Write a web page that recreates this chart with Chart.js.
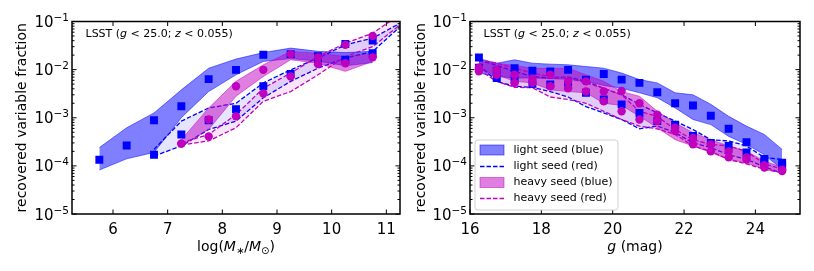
<!DOCTYPE html>
<html>
<head>
<meta charset="utf-8">
<script src="https://cdn.jsdelivr.net/npm/chart.js@4/dist/chart.umd.min.js"></script>
<style>
body { margin: 0; background: #fff; width: 814px; height: 271px; overflow: hidden; position: relative; }
canvas { position: absolute; top: 0; }
</style>
</head>
<body>
<canvas id="graficoMassa" width="407" height="271" style="left:0"></canvas>
<canvas id="graficoMag" width="407" height="271" style="left:407px"></canvas>
<script>
// ---- painel esquerdo: log(M*/Msun) ----
const binsMassa = [5.75, 6.25, 6.75, 7.25, 7.75, 8.25, 8.75, 9.25, 9.75, 10.25, 10.75, 11.25];

const leveAzulSup = [2.4e-4, 6.2e-4, 1.26e-3, 3.8e-3, 0.0107, 0.0166, 0.0226, 0.028, 0.024, 0.0226, 0.024, null];
const leveAzulInf = [8.2e-5, 1.4e-4, 1.9e-4, 1.0e-3, 3.5e-3, 7.8e-3, 0.0148, 0.017, 0.015, 0.012, 0.014, null];
const leveAzulPts = [1.34e-4, 2.65e-4, 8.9e-4, 1.73e-3, 6.35e-3, 9.9e-3, 0.0203, 0.021, 0.019, 0.016, 0.022, null];

const leveVermSup = [null, null, 2.2e-4, 8.5e-4, 1.6e-3, 2.0e-3, 5.3e-3, 9.9e-3, 0.0173, 0.0327, 0.045, 0.092];
const leveVermInf = [null, null, 1.6e-4, 2.6e-4, 5.7e-4, 8.5e-4, 2.6e-3, 5.7e-3, 0.0107, 0.0173, 0.0238, 0.078];
const leveVermPts = [null, null, 1.7e-4, 4.5e-4, 8.9e-4, 1.5e-3, 4.5e-3, 8.1e-3, 0.0148, 0.034, 0.040, null];

const pesadaAzulSup = [null, null, null, 3.5e-4, 1.6e-3, 5.7e-3, 0.0126, 0.0238, 0.022, 0.0187, 0.022, null];
const pesadaAzulInf = [null, null, null, 2.6e-4, 5.7e-4, 2.8e-3, 7.2e-3, 0.016, 0.0136, 0.0092, 0.0148, null];
const pesadaAzulPts = [null, null, null, 2.9e-4, 9.2e-4, 4.5e-3, 9.9e-3, 0.021, 0.018, 0.0136, 0.018, null];

const pesadaVermSup = [null, null, null, 3.0e-4, 4.5e-4, 1.16e-3, 4.1e-3, 8.5e-3, 0.0187, 0.0353, 0.057, 0.14];
const pesadaVermInf = [null, null, null, 2.7e-4, 3.3e-4, 6.2e-4, 2.2e-3, 3.5e-3, 7.8e-3, 0.0187, 0.030, 0.085];
const pesadaVermPts = [null, null, null, 2.9e-4, 4.1e-4, 1.07e-3, 3.2e-3, 7.2e-3, 0.013, 0.0327, 0.050, null];

// ---- painel direito: g (mag) ----
const binsMag = [16.25, 16.75, 17.25, 17.75, 18.25, 18.75, 19.25, 19.75, 20.25, 20.75, 21.25, 21.75, 22.25, 22.75, 23.25, 23.75, 24.25, 24.75];

const gLeveAzulSup = [0.017, 0.0136, 0.016, 0.0136, 0.013, 0.0126, 0.0116, 0.0107, 0.0085, 0.0062, 0.0053, 0.0033, 0.0030, 0.0019, 0.00107, 0.00067, 0.00045, 0.00022];
const gLeveAzulInf = [0.0085, 0.0072, 0.0067, 0.0067, 0.0065, 0.0063, 0.0057, 0.0047, 0.0041, 0.0033, 0.0026, 0.0016, 0.00092, 0.00072, 0.00041, 0.00028, 0.00017, 0.000085];
const gLeveAzulPts = [0.0179, 0.0095, 0.0107, 0.0095, 0.0092, 0.0099, 0.0062, 0.0081, 0.0062, 0.0053, 0.0034, 0.0020, 0.0018, 0.0011, 0.00059, 0.00031, 0.00014, 0.000116];

const gLeveVermSup = [0.016, 0.0122, 0.0092, 0.0072, 0.0067, 0.0070, 0.0057, 0.0041, 0.0030, 0.0019, 0.00126, 0.00085, 0.00057, 0.00035, 0.00033, 0.00026, 0.00015, 0.000136];
const gLeveVermInf = [0.0126, 0.0057, 0.0045, 0.0043, 0.0035, 0.0027, 0.0017, 0.00126, 0.00092, 0.00059, 0.00067, 0.00049, 0.00030, 0.00024, 0.00017, 0.000136, 0.000096, 0.00007];
const gLeveVermPts = [0.011, 0.0067, 0.0062, 0.0051, 0.0049, 0.0047, 0.0033, 0.0024, 0.0019, 0.00126, 0.00085, 0.00072, 0.00042, 0.00030, 0.00026, 0.00019, 0.00012, 0.0001];

const gPesadaAzulSup = [0.0148, 0.0136, 0.0122, 0.0107, 0.0105, 0.0107, 0.0078, 0.0057, 0.0035, 0.0028, 0.00136, 0.00078, 0.00049, 0.00035, 0.00026, 0.0002, 0.000127, 0.000092];
const gPesadaAzulInf = [0.0099, 0.0078, 0.0057, 0.0053, 0.0038, 0.0035, 0.0033, 0.0020, 0.0018, 0.00107, 0.00062, 0.00035, 0.00026, 0.00019, 0.000136, 0.000116, 0.000085, 0.000072];
const gPesadaAzulPts = [0.011, 0.0099, 0.0078, 0.0065, 0.0078, 0.0057, 0.0057, 0.0035, 0.0036, 0.0020, 0.00116, 0.00062, 0.00038, 0.00028, 0.0002, 0.00015, 0.000103, 0.000083];

const gPesadaVermSup = [0.016, 0.0136, 0.0107, 0.0085, 0.0072, 0.0067, 0.0053, 0.0041, 0.0030, 0.00136, 0.00107, 0.00057, 0.00035, 0.00028, 0.00026, 0.0002, 0.00011, 0.000085];
const gPesadaVermInf = [0.0099, 0.0057, 0.0043, 0.0042, 0.0027, 0.0024, 0.0020, 0.00136, 0.00092, 0.00067, 0.00059, 0.00045, 0.00026, 0.0002, 0.000136, 0.00011, 0.000085, 0.000072];
const gPesadaVermPts = [0.0092, 0.0078, 0.0053, 0.0053, 0.0045, 0.0041, 0.0035, 0.0022, 0.00136, 0.00092, 0.00085, 0.00053, 0.00028, 0.0002, 0.00015, 0.000136, 0.000092, 0.000078];

// eixos
const ticksMassa = [6, 7, 8, 9, 10, 11];
const ticksMag = [16, 18, 20, 22, 24];
const decadas = [1e-5, 1e-4, 1e-3, 1e-2, 1e-1];
const expoentes = ['\u22125', '\u22124', '\u22123', '\u22122', '\u22121'];
const menores = [2, 3, 4, 5, 6, 7, 8, 9];
const legendas = ['light seed (blue)', 'light seed (red)', 'heavy seed (blue)', 'heavy seed (red)'];

const AZUL = '#0000ff';
const MAGENTA = '#bf00bf';
const AZUL_FAIXA = 'rgba(0,0,255,0.5)';
const MAGENTA_FAIXA = 'rgba(191,0,191,0.5)';
const AZUL_CLARO = 'rgba(0,0,255,0.1)';
const MAGENTA_CLARO = 'rgba(191,0,191,0.1)';
const FONTE = '"DejaVu Sans", sans-serif';
const TRACO = [4.5, 2];

function pontos(xs, ys) {
    return xs.map((x, i) => ({ x: x, y: ys[i] })).filter(p => p.y !== null);
}

function faixa(xs, sup, inf, cor, preench, tracejado, ordem) {
    const base = {
        pointRadius: 0,
        tension: 0,
        borderColor: cor,
        borderWidth: tracejado ? 1.3 : 1,
        borderDash: tracejado ? TRACO : [],
        order: ordem,
    };
    return [
        Object.assign({}, base, { data: pontos(xs, sup), fill: '+1', backgroundColor: preench }),
        Object.assign({}, base, { data: pontos(xs, inf), fill: false }),
    ];
}

function marcadores(xs, ys, cor, estilo, raio, ordem) {
    return {
        data: pontos(xs, ys),
        showLine: false,
        pointStyle: estilo,
        pointRadius: raio,
        pointBackgroundColor: cor,
        pointBorderWidth: 0,
        order: ordem,
    };
}

function escrever(ctx, partes, x, y, alinhamento) {
    let total = 0;
    partes.forEach(p => {
        ctx.font = (p.it ? 'italic ' : '') + p.tam + 'px ' + FONTE;
        p.w = ctx.measureText(p.t).width;
        total += p.w;
    });
    let cx = alinhamento === 'center' ? x - total / 2 : (alinhamento === 'right' ? x - total : x);
    ctx.textAlign = 'left';
    ctx.textBaseline = 'alphabetic';
    partes.forEach(p => {
        ctx.font = (p.it ? 'italic ' : '') + p.tam + 'px ' + FONTE;
        ctx.fillText(p.t, cx, y + (p.dy || 0));
        cx += p.w;
    });
}

function linha(ctx, x1, y1, x2, y2) {
    ctx.beginPath();
    ctx.moveTo(x1, y1);
    ctx.lineTo(x2, y2);
    ctx.stroke();
}

const moldura = {
    id: 'moldura',
    afterDraw(chart, args, opts) {
        const ctx = chart.ctx;
        const a = chart.chartArea;
        const x = chart.scales.x;
        const y = chart.scales.y;
        ctx.save();
        ctx.fillStyle = '#000';
        ctx.strokeStyle = '#000';
        ctx.lineWidth = 1;

        x.ticks.forEach(t => {
            const px = x.getPixelForValue(t.value);
            linha(ctx, px, a.bottom, px, a.bottom - 4.5);
            linha(ctx, px, a.top, px, a.top + 4.5);
        });
        decadas.forEach((d, i) => {
            const py = y.getPixelForValue(d);
            linha(ctx, a.left, py, a.left + 4.5, py);
            linha(ctx, a.right, py, a.right - 4.5, py);
            if (i < decadas.length - 1) {
                menores.forEach(m => {
                    const pm = y.getPixelForValue(m * d);
                    linha(ctx, a.left, pm, a.left + 2.5, pm);
                    linha(ctx, a.right, pm, a.right - 2.5, pm);
                });
            }
            // rotulo 10^n
            ctx.font = '10.5px ' + FONTE;
            const we = ctx.measureText(expoentes[i]).width;
            ctx.textAlign = 'right';
            ctx.textBaseline = 'alphabetic';
            ctx.fillText(expoentes[i], a.left - 3, py - 0.5);
            ctx.font = '15px ' + FONTE;
            ctx.fillText('10', a.left - 3 - we, py + 5.5);
        });

        ctx.lineWidth = 1.5;
        ctx.strokeRect(a.left, a.top, a.right - a.left, a.bottom - a.top);

        // titulo do eixo y
        ctx.save();
        ctx.translate(a.left - opts.tituloYDist, (a.top + a.bottom) / 2);
        ctx.rotate(-Math.PI / 2);
        ctx.font = '14px ' + FONTE;
        ctx.textAlign = 'center';
        ctx.textBaseline = 'middle';
        ctx.fillText('recovered variable fraction', 0, 0);
        ctx.restore();

        // titulo do eixo x
        escrever(ctx, opts.tituloX, (a.left + a.right) / 2, 251, 'center');

        // anotacao
        escrever(ctx, [
            { t: 'LSST (', tam: 11 },
            { t: 'g', it: true, tam: 11 },
            { t: ' < 25.0; ', tam: 11 },
            { t: 'z', it: true, tam: 11 },
            { t: ' < 0.055)', tam: 11 },
        ], a.left + 13.5, a.top + 15.5, 'left');

        if (opts.legenda) {
            const lx = a.left + 5, ly = a.top + 118.5, lw = 143, lh = 70;
            ctx.beginPath();
            ctx.roundRect(lx, ly, lw, lh, 3);
            ctx.fillStyle = 'rgba(255,255,255,0.8)';
            ctx.fill();
            ctx.strokeStyle = '#d0d0d0';
            ctx.lineWidth = 1;
            ctx.stroke();
            const linhas = [128.5, 145, 161, 177];
            const estilos = [
                { tipo: 'faixa', cor: AZUL_FAIXA, borda: AZUL_FAIXA },
                { tipo: 'traco', cor: AZUL },
                { tipo: 'faixa', cor: MAGENTA_FAIXA, borda: MAGENTA_FAIXA },
                { tipo: 'traco', cor: MAGENTA },
            ];
            linhas.forEach((ry, i) => {
                const cy = a.top + ry;
                const e = estilos[i];
                if (e.tipo === 'faixa') {
                    ctx.fillStyle = e.cor;
                    ctx.fillRect(a.left + 10, cy - 5, 24, 10);
                    ctx.strokeStyle = e.borda;
                    ctx.lineWidth = 1;
                    ctx.strokeRect(a.left + 10, cy - 5, 24, 10);
                } else {
                    ctx.strokeStyle = e.cor;
                    ctx.lineWidth = 1.3;
                    ctx.setLineDash(TRACO);
                    linha(ctx, a.left + 10, cy, a.left + 34, cy);
                    ctx.setLineDash([]);
                }
                ctx.fillStyle = '#000';
                ctx.font = '11px ' + FONTE;
                ctx.textAlign = 'left';
                ctx.textBaseline = 'middle';
                ctx.fillText(legendas[i], a.left + 43.5, cy);
            });
        }
        ctx.restore();
    }
};

function criarGrafico(id, xs, series, xMin, xMax, ticksX, largY, padDir, extras) {
    const datasets = [
        marcadores(xs, series.pesadaVermPts, MAGENTA, 'circle', 4.2, 0),
        marcadores(xs, series.pesadaAzulPts, MAGENTA, 'circle', 4.2, 1),
        marcadores(xs, series.leveVermPts, AZUL, 'rect', 5.6, 2),
        marcadores(xs, series.leveAzulPts, AZUL, 'rect', 5.6, 3),
    ].concat(
        faixa(xs, series.pesadaVermSup, series.pesadaVermInf, MAGENTA, MAGENTA_CLARO, true, 4),
        faixa(xs, series.pesadaAzulSup, series.pesadaAzulInf, MAGENTA_FAIXA, MAGENTA_FAIXA, false, 5),
        faixa(xs, series.leveVermSup, series.leveVermInf, AZUL, AZUL_CLARO, true, 6),
        faixa(xs, series.leveAzulSup, series.leveAzulInf, AZUL_FAIXA, AZUL_FAIXA, false, 7)
    );
    // fill '+1' aponta para o indice seguinte no array
    return new Chart(document.getElementById(id), {
        type: 'line',
        data: { datasets: datasets },
        options: {
            responsive: false,
            animation: false,
            devicePixelRatio: 1,
            layout: { padding: { top: 21.5, right: padDir, left: 0, bottom: 0 } },
            plugins: {
                legend: { display: false },
                tooltip: { enabled: false },
                moldura: extras,
            },
            scales: {
                x: {
                    type: 'linear',
                    min: xMin,
                    max: xMax,
                    grid: { display: false, drawTicks: false },
                    border: { display: false },
                    ticks: { color: '#000', font: { family: 'DejaVu Sans', size: 15 }, padding: 7 },
                    afterBuildTicks: s => { s.ticks = ticksX.map(v => ({ value: v })); },
                    afterFit: s => { s.height = 57; },
                },
                y: {
                    type: 'logarithmic',
                    min: 1e-5,
                    max: 0.1,
                    grid: { display: false, drawTicks: false },
                    border: { display: false },
                    ticks: { display: false },
                    afterFit: s => { s.width = largY; },
                },
            },
        },
        plugins: [moldura],
    });
}

criarGrafico('graficoMassa', binsMassa, {
    leveAzulSup, leveAzulInf, leveAzulPts,
    leveVermSup, leveVermInf, leveVermPts,
    pesadaAzulSup, pesadaAzulInf, pesadaAzulPts,
    pesadaVermSup, pesadaVermInf, pesadaVermPts,
}, 5.25, 11.25, ticksMassa, 72, 7, {
    tituloYDist: 50,
    legenda: false,
    tituloX: [
        { t: 'log(', tam: 14 },
        { t: 'M', it: true, tam: 14 },
        { t: '\u2217', tam: 10, dy: 3 },
        { t: '/', tam: 14 },
        { t: 'M', it: true, tam: 14 },
        { t: '\u2299', tam: 10, dy: 3 },
        { t: ')', tam: 14 },
    ],
});

criarGrafico('graficoMag', binsMag, {
    leveAzulSup: gLeveAzulSup, leveAzulInf: gLeveAzulInf, leveAzulPts: gLeveAzulPts,
    leveVermSup: gLeveVermSup, leveVermInf: gLeveVermInf, leveVermPts: gLeveVermPts,
    pesadaAzulSup: gPesadaAzulSup, pesadaAzulInf: gPesadaAzulInf, pesadaAzulPts: gPesadaAzulPts,
    pesadaVermSup: gPesadaVermSup, pesadaVermInf: gPesadaVermInf, pesadaVermPts: gPesadaVermPts,
}, 16, 25.25, ticksMag, 63, 14, {
    tituloYDist: 48.5,
    legenda: true,
    tituloX: [
        { t: 'g', it: true, tam: 14 },
        { t: ' (mag)', tam: 14 },
    ],
});
</script>
</body>
</html>
